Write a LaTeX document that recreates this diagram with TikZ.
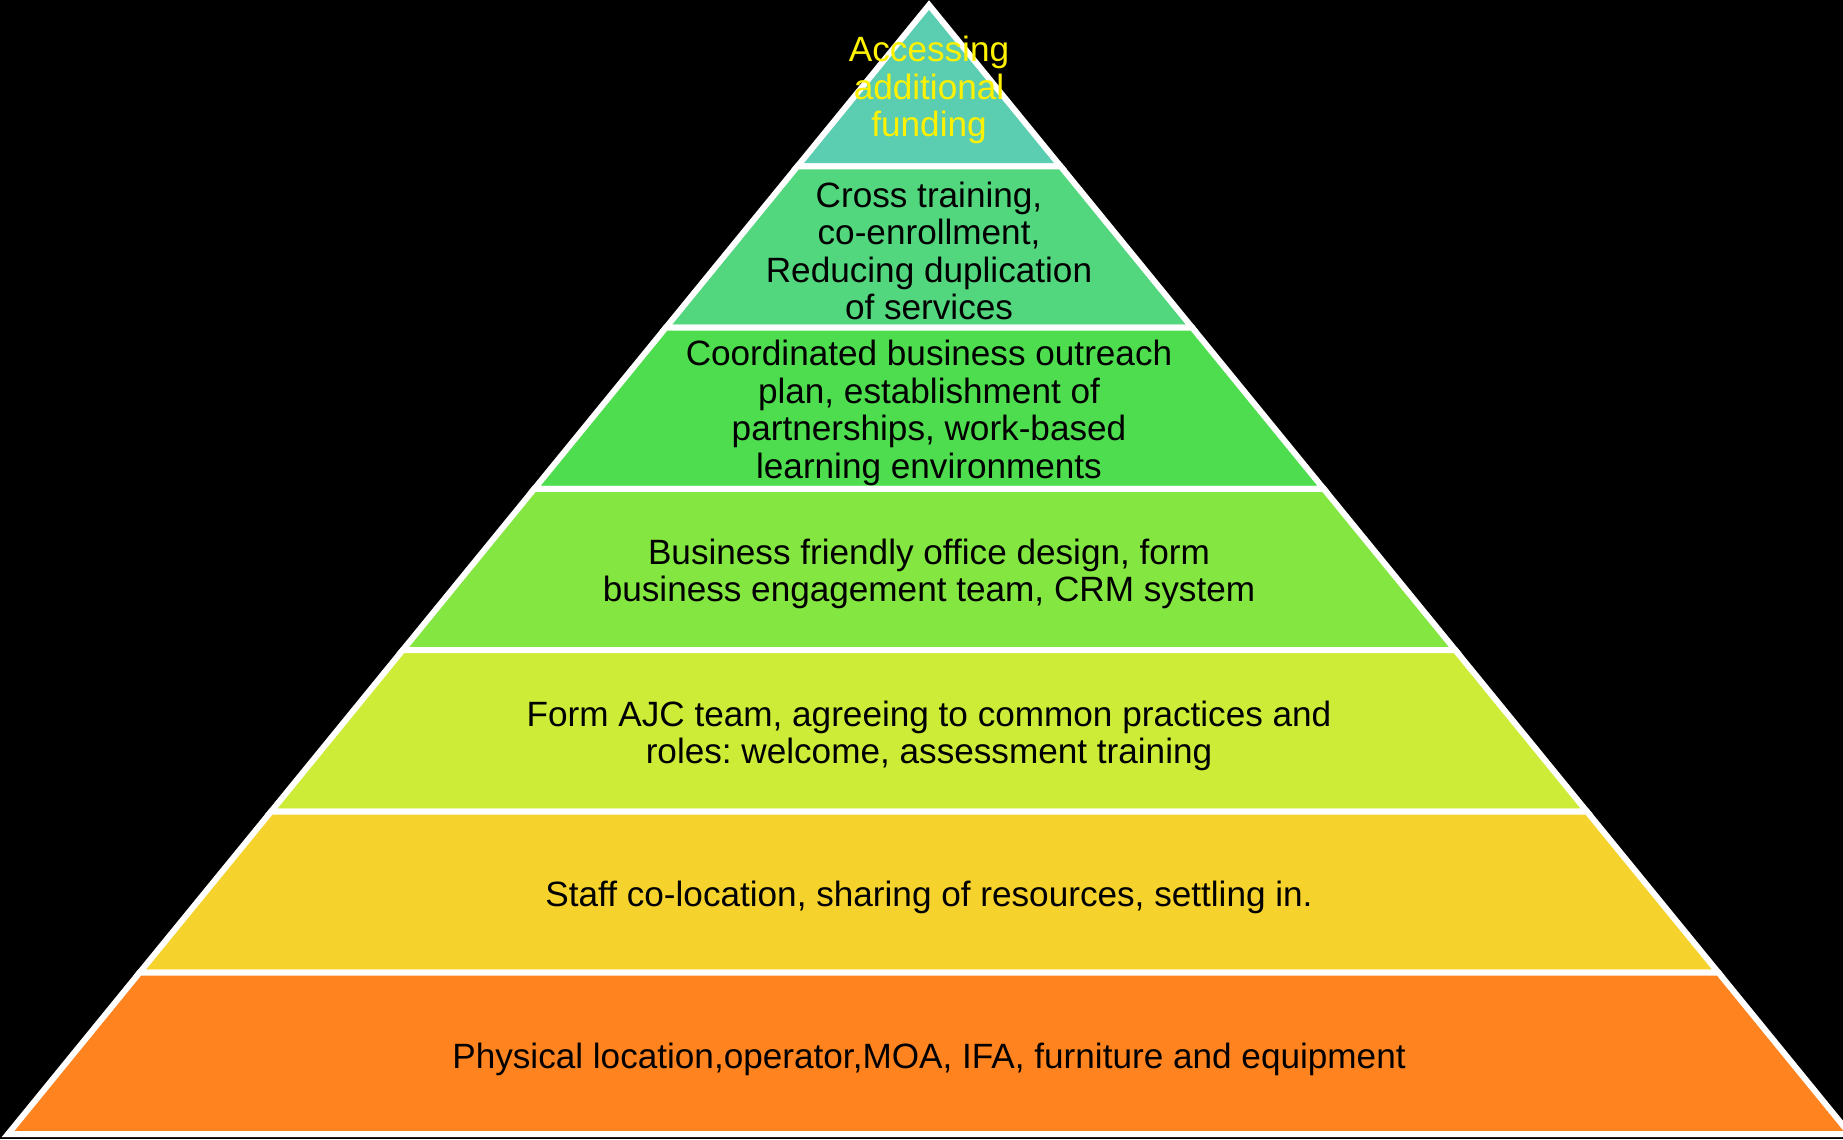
\documentclass[tikz,border=0pt]{standalone}
\usepackage{fontspec}
\setmainfont{Liberation Sans}
\usetikzlibrary{positioning}
\frenchspacing

\definecolor{tierA}{RGB}{91,205,176}
\definecolor{tierB}{RGB}{82,214,126}
\definecolor{tierC}{RGB}{78,221,78}
\definecolor{tierD}{RGB}{132,230,64}
\definecolor{tierE}{RGB}{205,236,56}
\definecolor{tierF}{RGB}{245,210,44}
\definecolor{tierG}{RGB}{255,132,32}

\tikzset{
  tier/.style={draw=white,line width=1.7pt,line join=miter},
  lbl/.style={align=center,font=\fontsize{10}{10.7}\selectfont,text=black,inner sep=0pt}
}

\begin{document}
\begin{tikzpicture}
  \useasboundingbox (0,0) rectangle (18.43,-11.39);
  \fill[black] (0,0) rectangle (18.43,-11.39);
  \clip (0,0) rectangle (18.43,-11.39);

  % corners of the tiers, left and right
  \coordinate (P) at (9.29,-0.05);
  \coordinate (L1) at (7.974,-1.663);  \coordinate (R1) at (10.606,-1.663);
  \coordinate (L2) at (6.658,-3.276);  \coordinate (R2) at (11.922,-3.276);
  \coordinate (L3) at (5.342,-4.889);  \coordinate (R3) at (13.238,-4.889);
  \coordinate (L4) at (4.026,-6.502);  \coordinate (R4) at (14.554,-6.502);
  \coordinate (L5) at (2.711,-8.115);  \coordinate (R5) at (15.869,-8.115);
  \coordinate (L6) at (1.395,-9.727);  \coordinate (R6) at (17.185,-9.727);
  \coordinate (L7) at (0.08,-11.34);   \coordinate (R7) at (18.50,-11.34);

  \draw[tier,fill=tierA] (P)--(R1)--(L1)--cycle;
  \draw[tier,fill=tierB] (L1)--(R1)--(R2)--(L2)--cycle;
  \draw[tier,fill=tierC] (L2)--(R2)--(R3)--(L3)--cycle;
  \draw[tier,fill=tierD] (L3)--(R3)--(R4)--(L4)--cycle;
  \draw[tier,fill=tierE] (L4)--(R4)--(R5)--(L5)--cycle;
  \draw[tier,fill=tierF] (L5)--(R5)--(R6)--(L6)--cycle;
  \draw[tier,fill=tierG] (L6)--(R6)--(R7)--(L7)--cycle;

  \node[lbl,text=yellow] (t1) at (9.29,-0.90) {Accessing\\additional\\funding};
  \node[lbl] (t2) at (9.29,-2.51) {Cross training,\\co-enrollment,\\Reducing duplication\\of services};
  \node[lbl] (t3) at (9.29,-4.13) {Coordinated business outreach\\plan, establishment of\\partnerships, work-based\\learning environments};
  \node[lbl] (t4) at (9.29,-5.74) {Business friendly office design, form\\business engagement team, CRM system};
  \node[lbl] (t5) at (9.29,-7.36) {Form AJC team, agreeing to common practices and\\roles: welcome, assessment training};
  \node[lbl] (t6) at (9.29,-8.97) {Staff co-location, sharing of resources, settling in.};
  \node[lbl] (t7) at (9.29,-10.59) {Physical location,operator,MOA, IFA, furniture and equipment};
\end{tikzpicture}
\end{document}
